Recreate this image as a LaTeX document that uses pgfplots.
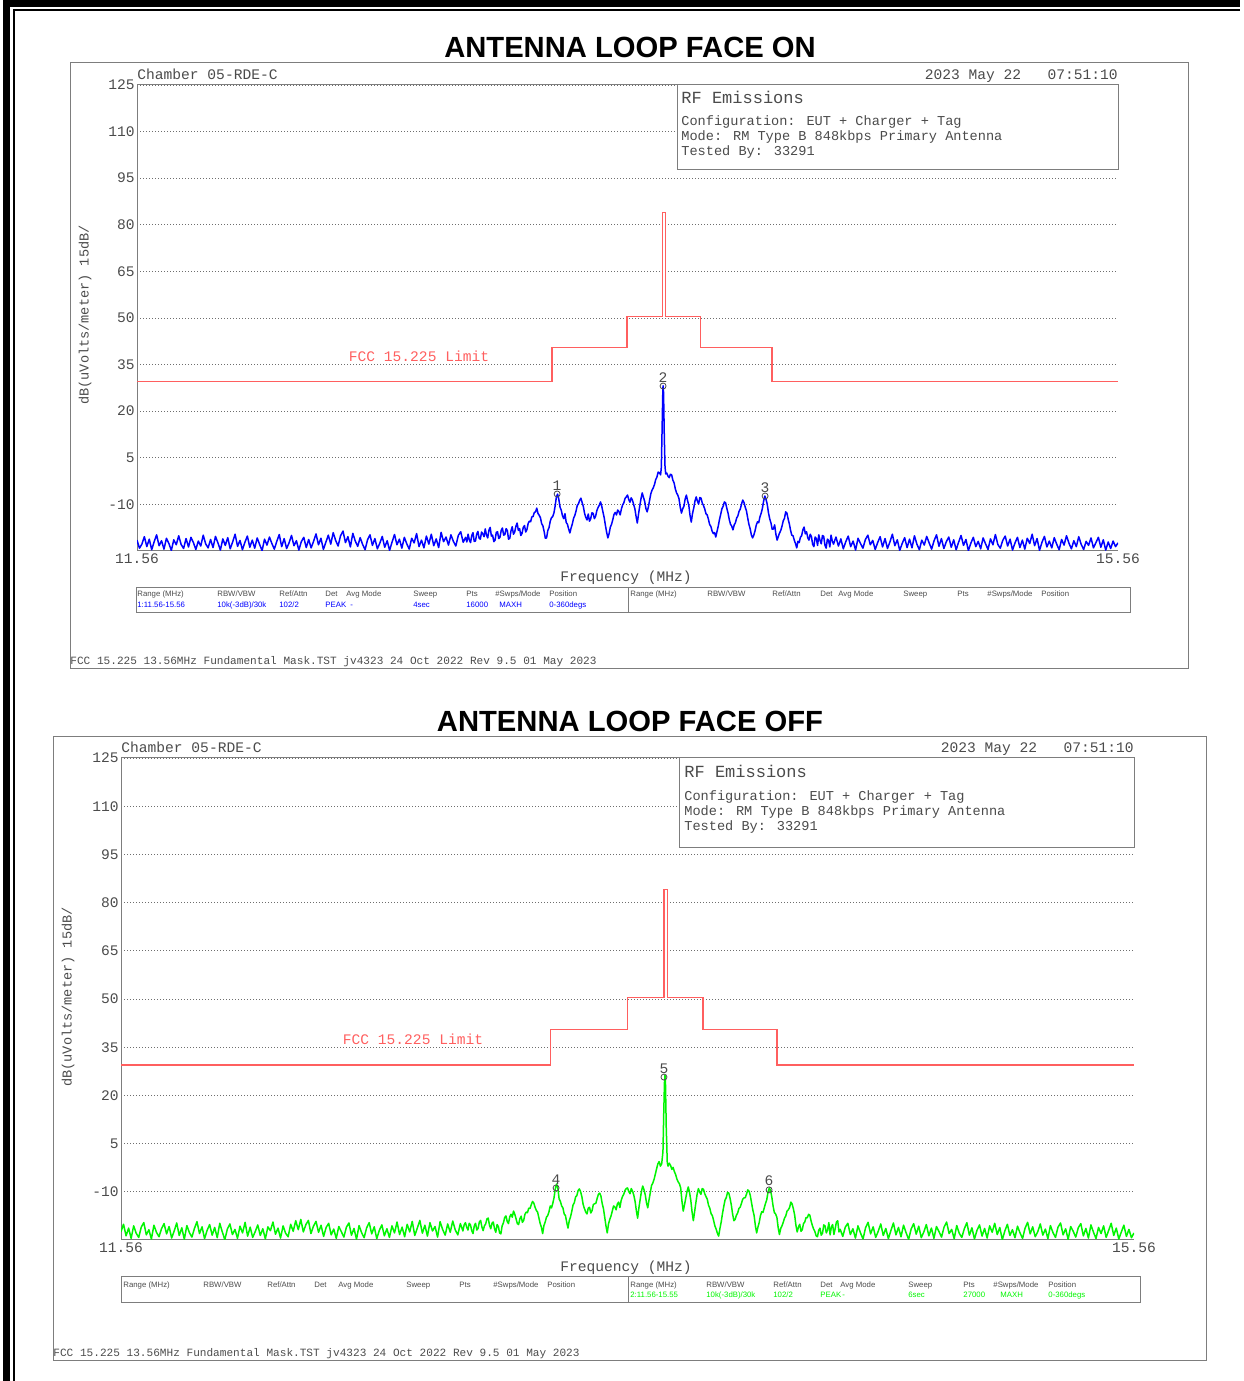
\documentclass[border=0pt]{standalone}
\usepackage{pgfplots}
\pgfplotsset{compat=1.18}
\usepackage{fontspec}
\setmainfont{Liberation Sans}
\newfontfamily\mono{Liberation Mono}
\definecolor{txt}{RGB}{75,75,75}
\definecolor{frm}{RGB}{125,125,125}
\definecolor{lim}{RGB}{255,95,95}
\definecolor{tra}{RGB}{0,0,255}
\definecolor{trb}{RGB}{0,245,0}
\definecolor{grd}{RGB}{110,110,110}
\newcommand\fA{\mono\fontsize{7.3pt}{8pt}\selectfont}
\newcommand\fB{\mono\fontsize{6.8pt}{8pt}\selectfont}
\newcommand\fC{\mono\fontsize{8.5pt}{9pt}\selectfont}
\newcommand\fY{\mono\fontsize{6.8pt}{8pt}\selectfont}
\newcommand\fF{\mono\fontsize{5.55pt}{6pt}\selectfont}
\newcommand\fT{\fontsize{3.9pt}{4.5pt}\selectfont}
\newcommand\ttl{\fontsize{14.6pt}{16pt}\selectfont\bfseries}

\pgfplotsset{panel/.style={
  scale only axis, xmin=11.56, xmax=15.56, ymin=-25, ymax=125,
  axis lines=left, axis line style={frm,-,line width=0.5pt},
  ytick={-10,5,20,35,50,65,80,95,110,125},
  yticklabels={-10,5,20,35,50,65,80,95,110,125},
  xtick={11.56,15.56}, xticklabels={11.56,15.56},
  major tick length=0pt, tick style={draw=none},
  ymajorgrids, grid style={grd,line width=0.4pt,dash pattern=on 0.5pt off 1pt},
  yticklabel style={font=\fA,text=txt,inner sep=1pt},
  xticklabel style={font=\fA,text=txt,inner sep=1pt},
  clip=true}}

\begin{document}
\begin{tikzpicture}
\useasboundingbox (0,0) rectangle (621.5pt,690.5pt);

% ---------------- panel 1 ----------------
\begin{axis}[panel, at={(68.5pt,415pt)}, anchor=south west, width=490.5pt, height=233pt]
\addplot[lim, line width=0.7pt] coordinates {(11.56,29.5) (13.252,29.5) (13.252,40.5) (13.558,40.5) (13.558,50.5) (13.702,50.5) (13.702,84) (13.715,84) (13.715,50.5) (13.857,50.5) (13.857,40.5) (14.149,40.5) (14.149,29.5) (15.56,29.5)};
\addplot[tra, line width=0.75pt, line join=round] table[row sep=\\] {f d\\
11.56 -21.5\\ 11.57 -24.1\\ 11.58 -22.8\\ 11.59 -20.4\\ 11.60 -23.6\\ 11.61 -21.2\\ 11.62 -24.6\\ 11.63 -22.0\\ 11.64 -19.8\\ 11.65 -23.3\\
11.66 -21.7\\ 11.67 -24.4\\ 11.68 -20.9\\ 11.69 -22.6\\ 11.70 -24.8\\ 11.71 -21.4\\ 11.72 -23.0\\ 11.73 -20.1\\ 11.74 -22.9\\ 11.75 -24.2\\
11.76 -21.0\\ 11.77 -23.7\\ 11.78 -20.6\\ 11.79 -22.3\\ 11.80 -24.5\\ 11.81 -21.8\\ 11.82 -23.4\\ 11.83 -19.9\\ 11.84 -22.7\\ 11.85 -24.0\\
11.86 -21.3\\ 11.87 -23.9\\ 11.88 -20.3\\ 11.89 -22.4\\ 11.90 -24.7\\ 11.91 -21.1\\ 11.92 -23.2\\ 11.93 -20.7\\ 11.94 -24.3\\ 11.95 -22.1\\
11.96 -19.6\\ 11.97 -23.5\\ 11.98 -21.6\\ 11.99 -24.6\\ 12.00 -22.2\\ 12.01 -20.2\\ 12.02 -23.8\\ 12.03 -21.5\\ 12.04 -24.1\\ 12.05 -20.8\\
12.06 -22.9\\ 12.07 -24.9\\ 12.08 -21.2\\ 12.09 -23.1\\ 12.10 -20.5\\ 12.11 -22.6\\ 12.12 -24.4\\ 12.13 -21.9\\ 12.14 -19.7\\ 12.15 -23.6\\
12.16 -21.0\\ 12.17 -24.2\\ 12.18 -22.4\\ 12.19 -20.0\\ 12.20 -23.3\\ 12.21 -21.7\\ 12.22 -24.7\\ 12.23 -22.0\\ 12.24 -20.6\\ 12.25 -23.9\\
12.26 -21.3\\ 12.27 -24.0\\ 12.28 -21.9\\ 12.29 -19.5\\ 12.30 -23.0\\ 12.31 -20.9\\ 12.32 -24.5\\ 12.33 -22.2\\ 12.34 -19.9\\ 12.35 -22.8\\
12.36 -19.1\\ 12.37 -21.6\\ 12.38 -23.4\\ 12.39 -20.1\\ 12.40 -18.6\\ 12.41 -22.3\\ 12.42 -20.4\\ 12.43 -23.7\\ 12.44 -19.3\\ 12.45 -21.8\\
12.46 -23.5\\ 12.47 -20.7\\ 12.48 -22.9\\ 12.49 -24.6\\ 12.50 -21.4\\ 12.51 -19.8\\ 12.52 -23.2\\ 12.53 -21.0\\ 12.54 -24.3\\ 12.55 -22.5\\
12.56 -20.3\\ 12.57 -23.8\\ 12.58 -21.7\\ 12.59 -24.8\\ 12.60 -22.1\\ 12.61 -19.7\\ 12.62 -23.0\\ 12.63 -21.2\\ 12.64 -24.1\\ 12.65 -20.6\\
12.66 -22.7\\ 12.67 -24.4\\ 12.68 -20.9\\ 12.69 -22.4\\ 12.70 -19.4\\ 12.71 -23.6\\ 12.72 -21.5\\ 12.73 -24.0\\ 12.74 -20.2\\ 12.75 -22.8\\
12.76 -19.6\\ 12.77 -23.3\\ 12.78 -21.1\\ 12.79 -23.9\\ 12.80 -19.0\\ 12.81 -22.0\\ 12.82 -20.5\\ 12.83 -23.1\\ 12.84 -19.8\\ 12.85 -21.9\\
12.86 -23.4\\ 12.87 -20.0\\ 12.88 -18.8\\ 12.89 -22.2\\ 12.90 -20.6\\
12.905 -22.1\\ 12.91 -19.6\\ 12.915 -21.4\\ 12.92 -22.3\\ 12.925 -20.0\\ 12.93 -19.1\\ 12.935 -21.9\\ 12.94 -21.8\\ 12.945 -19.6\\ 12.95 -18.7\\
12.955 -20.9\\ 12.96 -21.2\\ 12.965 -18.9\\ 12.97 -19.5\\ 12.975 -20.4\\ 12.98 -17.9\\ 12.985 -19.9\\ 12.99 -20.8\\ 12.995 -18.3\\ 13.00 -17.4\\
13.005 -20.2\\ 13.01 -19.9\\ 13.015 -22.0\\ 13.02 -21.5\\ 13.025 -19.0\\ 13.03 -18.8\\ 13.035 -21.0\\ 13.04 -20.6\\ 13.045 -18.4\\ 13.05 -17.6\\
13.055 -19.9\\ 13.06 -19.7\\ 13.065 -17.8\\ 13.07 -18.4\\ 13.075 -21.2\\ 13.08 -20.9\\ 13.085 -18.5\\ 13.09 -17.2\\ 13.095 -19.6\\ 13.10 -18.9\\
13.105 -17.0\\ 13.11 -16.0\\ 13.115 -18.4\\ 13.12 -17.8\\ 13.125 -20.0\\ 13.13 -19.3\\ 13.135 -17.4\\ 13.14 -16.8\\ 13.145 -18.9\\ 13.15 -18.1\\
13.155 -16.1\\ 13.16 -15.4\\ 13.165 -15.6\\ 13.17 -14.0\\ 13.175 -13.9\\ 13.18 -12.6\\ 13.185 -12.4\\ 13.19 -11.2\\ 13.195 -12.9\\ 13.20 -13.5\\
13.205 -14.3\\ 13.21 -16.2\\ 13.215 -16.9\\ 13.22 -18.7\\ 13.225 -20.9\\ 13.23 -20.8\\ 13.235 -18.4\\ 13.24 -17.5\\ 13.245 -15.4\\ 13.25 -14.3\\
13.255 -13.9\\ 13.26 -12.8\\ 13.265 -10.5\\ 13.27 -7.6\\ 13.275 -6.7\\ 13.28 -8.4\\ 13.285 -10.9\\ 13.29 -11.9\\ 13.295 -13.7\\ 13.30 -14.6\\
13.305 -13.0\\ 13.31 -15.8\\ 13.315 -16.4\\ 13.32 -17.9\\ 13.325 -19.2\\ 13.33 -17.6\\ 13.335 -16.3\\ 13.34 -14.5\\ 13.345 -13.6\\ 13.35 -12.2\\
13.355 -10.4\\ 13.36 -9.8\\ 13.365 -8.7\\ 13.37 -8.0\\ 13.375 -9.4\\ 13.38 -10.7\\ 13.385 -12.9\\ 13.39 -14.2\\ 13.395 -15.0\\ 13.40 -13.1\\
13.405 -15.4\\ 13.41 -14.6\\ 13.415 -12.7\\ 13.42 -12.9\\ 13.425 -14.6\\ 13.43 -13.8\\ 13.435 -12.0\\ 13.44 -11.0\\ 13.445 -10.3\\ 13.45 -9.2\\
13.455 -10.6\\ 13.46 -12.5\\ 13.465 -14.3\\ 13.47 -16.8\\ 13.475 -19.0\\ 13.48 -20.8\\ 13.485 -19.4\\ 13.49 -17.3\\ 13.495 -16.4\\ 13.50 -14.9\\
13.505 -13.2\\ 13.51 -12.6\\ 13.515 -13.4\\ 13.52 -11.8\\ 13.525 -12.3\\ 13.53 -13.4\\ 13.535 -11.5\\ 13.54 -10.2\\ 13.545 -9.5\\ 13.55 -8.1\\
13.555 -7.6\\ 13.56 -7.0\\ 13.565 -8.4\\ 13.57 -9.3\\ 13.575 -7.9\\ 13.58 -8.6\\ 13.585 -10.0\\ 13.59 -11.4\\ 13.595 -13.9\\ 13.60 -16.0\\
13.605 -13.1\\ 13.61 -10.5\\ 13.615 -8.2\\ 13.62 -6.3\\ 13.625 -7.7\\ 13.63 -9.0\\ 13.635 -11.3\\ 13.64 -12.4\\ 13.645 -10.9\\ 13.65 -8.7\\
13.655 -6.6\\ 13.66 -5.4\\ 13.665 -4.7\\ 13.67 -3.6\\ 13.675 -2.0\\ 13.68 -1.2\\ 13.685 0.4\\ 13.69 0.2\\ 13.695 -0.5\\ 13.698 2.0\\
13.701 14.0\\ 13.704 26.5\\ 13.705 28.2\\ 13.707 26.0\\ 13.710 12.0\\ 13.713 2.0\\ 13.716 -0.2\\ 13.72 0.1\\ 13.725 -0.9\\ 13.73 -1.4\\
13.735 -0.3\\ 13.74 -0.5\\ 13.745 -2.2\\ 13.75 -3.1\\ 13.755 -5.0\\ 13.76 -6.3\\ 13.765 -7.0\\ 13.77 -8.2\\ 13.775 -10.9\\ 13.78 -12.8\\
13.785 -11.4\\ 13.79 -10.6\\ 13.795 -8.3\\ 13.80 -7.0\\ 13.805 -8.8\\ 13.81 -10.3\\ 13.815 -13.6\\ 13.82 -15.7\\ 13.825 -13.0\\ 13.83 -11.2\\
13.835 -9.0\\ 13.84 -7.6\\ 13.845 -8.9\\ 13.85 -9.9\\ 13.855 -7.8\\ 13.86 -8.0\\ 13.865 -9.6\\ 13.87 -10.4\\ 13.875 -11.5\\ 13.88 -13.0\\
13.885 -13.4\\ 13.89 -14.8\\ 13.895 -16.5\\ 13.90 -17.1\\ 13.905 -18.6\\ 13.91 -19.4\\ 13.915 -19.1\\ 13.92 -20.5\\ 13.925 -18.7\\ 13.93 -17.0\\
13.935 -14.9\\ 13.94 -13.2\\ 13.945 -11.4\\ 13.95 -10.6\\ 13.955 -9.2\\ 13.96 -9.5\\ 13.965 -11.3\\ 13.97 -12.8\\ 13.975 -14.9\\ 13.98 -16.4\\
13.985 -17.0\\ 13.99 -18.2\\ 13.995 -16.6\\ 14.00 -15.9\\ 14.005 -14.4\\ 14.01 -13.7\\ 14.015 -12.2\\ 14.02 -11.5\\ 14.025 -9.9\\ 14.03 -8.6\\
14.035 -9.4\\ 14.04 -10.9\\ 14.045 -12.1\\ 14.05 -14.3\\ 14.055 -16.4\\ 14.06 -17.8\\ 14.065 -19.8\\ 14.07 -20.8\\ 14.075 -19.9\\ 14.08 -18.5\\
14.085 -16.7\\ 14.09 -15.6\\ 14.095 -15.9\\ 14.10 -14.0\\ 14.105 -12.9\\ 14.11 -11.3\\ 14.115 -8.9\\ 14.12 -7.3\\ 14.125 -8.4\\ 14.13 -10.1\\
14.135 -12.8\\ 14.14 -14.7\\ 14.145 -16.0\\ 14.15 -18.0\\ 14.155 -17.9\\ 14.16 -16.6\\ 14.165 -19.6\\ 14.17 -21.5\\ 14.175 -20.3\\ 14.18 -19.2\\
14.185 -18.4\\ 14.19 -17.0\\ 14.195 -15.3\\ 14.20 -14.5\\ 14.205 -12.4\\ 14.21 -12.8\\ 14.215 -14.7\\ 14.22 -16.3\\ 14.225 -18.4\\ 14.23 -19.9\\
14.235 -20.1\\ 14.24 -21.5\\ 14.245 -22.6\\ 14.25 -24.0\\ 14.255 -21.9\\ 14.26 -22.3\\ 14.265 -20.6\\ 14.27 -20.1\\ 14.275 -18.2\\ 14.28 -17.3\\
14.285 -19.5\\ 14.29 -18.8\\ 14.295 -20.7\\ 14.30 -21.5\\ 14.305 -19.6\\ 14.31 -20.4\\ 14.315 -22.9\\ 14.32 -23.6\\ 14.325 -20.5\\ 14.33 -21.0\\
14.335 -23.2\\ 14.34 -19.8\\ 14.345 -21.6\\ 14.35 -22.7\\ 14.355 -20.0\\ 14.36 -20.3\\ 14.365 -23.1\\ 14.37 -24.1\\ 14.375 -21.2\\ 14.38 -21.6\\
14.385 -23.7\\ 14.39 -19.9\\ 14.395 -21.8\\ 14.40 -22.8\\
14.41 -20.5\\ 14.42 -23.4\\ 14.43 -21.1\\ 14.44 -24.3\\ 14.45 -22.0\\ 14.46 -20.2\\ 14.47 -23.6\\ 14.48 -21.8\\ 14.49 -24.7\\ 14.50 -20.9\\
14.51 -22.6\\ 14.52 -24.1\\ 14.53 -21.3\\ 14.54 -19.9\\ 14.55 -23.0\\ 14.56 -21.6\\ 14.57 -24.5\\ 14.58 -22.3\\ 14.59 -20.4\\ 14.60 -23.7\\
14.61 -21.0\\ 14.62 -24.2\\ 14.63 -22.1\\ 14.64 -19.6\\ 14.65 -23.3\\ 14.66 -21.4\\ 14.67 -24.8\\ 14.68 -22.6\\ 14.69 -20.7\\ 14.70 -23.9\\
14.71 -21.2\\ 14.72 -24.0\\ 14.73 -20.1\\ 14.74 -22.8\\ 14.75 -24.6\\ 14.76 -21.5\\ 14.77 -23.1\\ 14.78 -20.3\\ 14.79 -22.4\\ 14.80 -24.4\\
14.81 -21.7\\ 14.82 -19.8\\ 14.83 -23.5\\ 14.84 -21.0\\ 14.85 -24.2\\ 14.86 -22.0\\ 14.87 -20.5\\ 14.88 -23.8\\ 14.89 -21.4\\ 14.90 -24.6\\
14.91 -22.2\\ 14.92 -20.0\\ 14.93 -23.2\\ 14.94 -21.3\\ 14.95 -24.9\\ 14.96 -22.5\\ 14.97 -20.6\\ 14.98 -23.6\\ 14.99 -21.9\\ 15.00 -24.3\\
15.01 -20.8\\ 15.02 -22.7\\ 15.03 -24.5\\ 15.04 -21.1\\ 15.05 -23.0\\ 15.06 -19.7\\ 15.07 -22.9\\ 15.08 -24.1\\ 15.09 -21.6\\ 15.10 -20.2\\
15.11 -23.4\\ 15.12 -21.2\\ 15.13 -24.7\\ 15.14 -22.4\\ 15.15 -20.6\\ 15.16 -23.9\\ 15.17 -21.5\\ 15.18 -24.4\\ 15.19 -20.9\\ 15.20 -22.6\\
15.21 -19.6\\ 15.22 -23.3\\ 15.23 -21.0\\ 15.24 -24.8\\ 15.25 -22.2\\ 15.26 -20.3\\ 15.27 -23.7\\ 15.28 -21.8\\ 15.29 -24.0\\ 15.30 -20.7\\
15.31 -22.8\\ 15.32 -24.6\\ 15.33 -21.3\\ 15.34 -23.1\\ 15.35 -20.1\\ 15.36 -22.5\\ 15.37 -24.3\\ 15.38 -21.7\\ 15.39 -23.6\\ 15.40 -20.4\\
15.41 -22.9\\ 15.42 -24.5\\ 15.43 -21.9\\ 15.44 -23.2\\ 15.45 -20.8\\ 15.46 -24.0\\ 15.47 -22.3\\ 15.48 -20.6\\ 15.49 -23.8\\ 15.50 -21.4\\
15.51 -24.7\\ 15.52 -22.1\\ 15.53 -24.2\\ 15.54 -21.8\\ 15.55 -23.6\\ 15.56 -22.4\\
};
\addplot[only marks, mark=o, mark size=1.5pt, draw=txt, mark options={line width=0.4pt},
  point meta=explicit symbolic, nodes near coords,
  nodes near coords style={font=\fA, text=txt, anchor=south, yshift=1.2pt, inner sep=0.5pt}]
  coordinates {(13.273,-6.65)[1] (13.705,28.1)[2] (14.121,-7.3)[3]};
\end{axis}

% ---------------- panel 2 ----------------
\begin{axis}[panel, at={(60.5pt,70.5pt)}, anchor=south west, width=506.5pt, height=241pt]
\addplot[lim, line width=0.7pt] coordinates {(11.56,29.5) (13.257,29.5) (13.257,40.5) (13.561,40.5) (13.561,50.5) (13.704,50.5) (13.704,84) (13.717,84) (13.717,50.5) (13.858,50.5) (13.858,40.5) (14.150,40.5) (14.150,29.5) (15.56,29.5)};
\addplot[trb, line width=0.75pt, line join=round] table[row sep=\\] {f d\\
11.56 -22.4\\ 11.57 -20.1\\ 11.58 -23.7\\ 11.59 -21.3\\ 11.60 -24.5\\ 11.61 -20.6\\ 11.62 -22.9\\ 11.63 -24.2\\ 11.64 -21.0\\ 11.65 -19.6\\
11.66 -23.4\\ 11.67 -21.8\\ 11.68 -24.7\\ 11.69 -20.4\\ 11.70 -22.6\\ 11.71 -24.0\\ 11.72 -21.5\\ 11.73 -19.9\\ 11.74 -23.1\\ 11.75 -20.8\\
11.76 -24.4\\ 11.77 -22.2\\ 11.78 -19.7\\ 11.79 -23.6\\ 11.80 -21.2\\ 11.81 -24.8\\ 11.82 -20.5\\ 11.83 -22.7\\ 11.84 -24.1\\ 11.85 -21.4\\
11.86 -19.3\\ 11.87 -23.0\\ 11.88 -20.9\\ 11.89 -24.6\\ 11.90 -22.0\\ 11.91 -20.2\\ 11.92 -23.5\\ 11.93 -21.1\\ 11.94 -24.3\\ 11.95 -19.8\\
11.96 -22.5\\ 11.97 -24.9\\ 11.98 -21.6\\ 11.99 -20.0\\ 12.00 -23.3\\ 12.01 -21.7\\ 12.02 -24.5\\ 12.03 -20.7\\ 12.04 -22.8\\ 12.05 -19.5\\
12.06 -23.8\\ 12.07 -21.0\\ 12.08 -24.2\\ 12.09 -22.4\\ 12.10 -20.3\\ 12.11 -23.6\\ 12.12 -21.5\\ 12.13 -24.7\\ 12.14 -20.9\\ 12.15 -22.1\\
12.16 -19.4\\ 12.17 -23.2\\ 12.18 -21.3\\ 12.19 -24.4\\ 12.20 -20.6\\ 12.21 -22.9\\ 12.22 -24.0\\ 12.23 -20.1\\ 12.24 -22.3\\ 12.25 -19.0\\
12.26 -21.8\\ 12.27 -18.6\\ 12.28 -22.5\\ 12.29 -20.2\\ 12.30 -18.9\\ 12.31 -23.0\\ 12.32 -20.7\\ 12.33 -19.2\\ 12.34 -22.6\\ 12.35 -20.4\\
12.36 -23.9\\ 12.37 -21.1\\ 12.38 -19.8\\ 12.39 -23.4\\ 12.40 -21.6\\ 12.41 -24.5\\ 12.42 -20.8\\ 12.43 -22.4\\ 12.44 -24.1\\ 12.45 -21.0\\
12.46 -19.7\\ 12.47 -23.5\\ 12.48 -21.4\\ 12.49 -24.8\\ 12.50 -20.5\\ 12.51 -22.7\\ 12.52 -24.3\\ 12.53 -21.2\\ 12.54 -19.6\\ 12.55 -23.1\\
12.56 -20.9\\ 12.57 -24.6\\ 12.58 -22.0\\ 12.59 -20.3\\ 12.60 -23.7\\ 12.61 -21.5\\ 12.62 -24.2\\ 12.63 -20.6\\ 12.64 -22.8\\ 12.65 -19.4\\
12.66 -23.3\\ 12.67 -21.0\\ 12.68 -24.0\\ 12.69 -20.1\\ 12.70 -22.5\\ 12.71 -19.2\\ 12.72 -23.6\\ 12.73 -21.3\\ 12.74 -18.9\\ 12.75 -22.9\\
12.76 -20.4\\ 12.77 -23.8\\ 12.78 -19.6\\ 12.79 -22.2\\ 12.80 -20.8\\ 12.81 -24.1\\ 12.82 -19.3\\ 12.83 -21.7\\ 12.84 -23.5\\ 12.85 -20.0\\
12.86 -22.6\\ 12.87 -19.1\\ 12.88 -21.9\\ 12.89 -23.4\\ 12.90 -19.9\\
12.905 -21.0\\ 12.91 -22.2\\ 12.915 -20.3\\ 12.92 -19.6\\ 12.925 -21.0\\ 12.93 -21.9\\ 12.935 -19.8\\ 12.94 -20.3\\ 12.945 -22.1\\ 12.95 -23.0\\
12.955 -20.6\\ 12.96 -19.8\\ 12.965 -21.9\\ 12.97 -21.4\\ 12.975 -19.4\\ 12.98 -18.9\\ 12.985 -20.9\\ 12.99 -22.1\\ 12.995 -20.6\\ 13.00 -20.0\\
13.005 -18.4\\ 13.01 -18.2\\ 13.015 -20.4\\ 13.02 -21.5\\ 13.025 -19.8\\ 13.03 -19.4\\ 13.035 -21.5\\ 13.04 -22.6\\ 13.045 -20.2\\ 13.05 -20.8\\
13.055 -22.8\\ 13.06 -23.1\\ 13.065 -20.6\\ 13.07 -19.7\\ 13.075 -18.0\\ 13.08 -17.5\\ 13.085 -19.2\\ 13.09 -19.9\\ 13.095 -17.8\\ 13.10 -17.0\\
13.105 -17.9\\ 13.11 -16.0\\ 13.115 -17.0\\ 13.12 -18.4\\ 13.125 -19.9\\ 13.13 -20.2\\ 13.135 -18.4\\ 13.14 -17.6\\ 13.145 -19.5\\ 13.15 -18.9\\
13.155 -17.0\\ 13.16 -16.3\\ 13.165 -16.5\\ 13.17 -15.1\\ 13.175 -15.2\\ 13.18 -14.0\\ 13.185 -13.0\\ 13.19 -13.5\\ 13.195 -14.8\\ 13.20 -15.8\\
13.205 -16.3\\ 13.21 -18.1\\ 13.215 -19.8\\ 13.22 -21.0\\ 13.225 -23.0\\ 13.23 -20.5\\ 13.235 -19.4\\ 13.24 -17.9\\ 13.245 -17.4\\ 13.25 -16.2\\
13.255 -14.4\\ 13.26 -15.0\\ 13.265 -13.6\\ 13.27 -11.8\\ 13.275 -9.0\\ 13.28 -7.6\\ 13.285 -8.9\\ 13.29 -12.2\\ 13.295 -13.0\\ 13.30 -14.4\\
13.305 -15.0\\ 13.31 -16.9\\ 13.315 -17.4\\ 13.32 -19.5\\ 13.325 -21.3\\ 13.33 -19.0\\ 13.335 -17.8\\ 13.34 -16.1\\ 13.345 -14.1\\ 13.35 -13.4\\
13.355 -11.6\\ 13.36 -11.2\\ 13.365 -9.6\\ 13.37 -9.1\\ 13.375 -10.0\\ 13.38 -11.6\\ 13.385 -14.0\\ 13.39 -15.2\\ 13.395 -16.3\\ 13.40 -16.9\\
13.405 -15.1\\ 13.41 -14.8\\ 13.415 -16.6\\ 13.42 -15.9\\ 13.425 -14.0\\ 13.43 -13.7\\ 13.435 -13.6\\ 13.44 -12.1\\ 13.445 -10.8\\ 13.45 -10.4\\
13.455 -11.3\\ 13.46 -13.6\\ 13.465 -15.2\\ 13.47 -17.9\\ 13.475 -20.6\\ 13.48 -22.8\\ 13.485 -20.0\\ 13.49 -18.6\\ 13.495 -17.5\\ 13.50 -16.0\\
13.505 -14.4\\ 13.51 -14.7\\ 13.515 -15.6\\ 13.52 -13.8\\ 13.525 -13.2\\ 13.53 -14.9\\ 13.535 -12.7\\ 13.54 -11.5\\ 13.545 -10.8\\ 13.55 -9.6\\
13.555 -9.0\\ 13.56 -8.8\\ 13.565 -9.9\\ 13.57 -10.6\\ 13.575 -9.0\\ 13.58 -9.8\\ 13.585 -11.1\\ 13.59 -13.0\\ 13.595 -15.9\\ 13.60 -18.2\\
13.605 -15.0\\ 13.61 -12.4\\ 13.615 -9.9\\ 13.62 -8.2\\ 13.625 -9.3\\ 13.63 -10.9\\ 13.635 -13.4\\ 13.64 -15.0\\ 13.645 -12.5\\ 13.65 -10.3\\
13.655 -8.0\\ 13.66 -7.3\\ 13.665 -6.1\\ 13.67 -4.5\\ 13.675 -2.8\\ 13.68 -1.3\\ 13.685 -0.6\\ 13.69 -2.0\\ 13.695 -1.3\\ 13.700 2.5\\
13.703 14.0\\ 13.706 24.0\\ 13.708 26.3\\ 13.710 23.5\\ 13.713 10.0\\ 13.717 -0.8\\ 13.72 -2.0\\ 13.725 -1.1\\ 13.73 -1.8\\ 13.735 -3.0\\
13.74 -2.4\\ 13.745 -3.7\\ 13.75 -4.6\\ 13.755 -6.0\\ 13.76 -6.9\\ 13.765 -7.5\\ 13.77 -8.8\\ 13.775 -12.9\\ 13.78 -16.0\\ 13.785 -14.1\\
13.79 -12.0\\ 13.795 -9.9\\ 13.80 -8.5\\ 13.805 -10.2\\ 13.81 -12.7\\ 13.815 -16.3\\ 13.82 -19.0\\ 13.825 -16.2\\ 13.83 -13.4\\ 13.835 -10.7\\
13.84 -9.0\\ 13.845 -10.1\\ 13.85 -10.8\\ 13.855 -9.0\\ 13.86 -9.2\\ 13.865 -10.6\\ 13.87 -11.5\\ 13.875 -12.3\\ 13.88 -14.2\\ 13.885 -15.1\\
13.89 -16.8\\ 13.895 -17.4\\ 13.90 -18.9\\ 13.905 -20.6\\ 13.91 -21.6\\ 13.915 -22.9\\ 13.92 -23.8\\ 13.925 -21.4\\ 13.93 -19.4\\ 13.935 -16.8\\
13.94 -14.6\\ 13.945 -12.6\\ 13.95 -11.8\\ 13.955 -10.2\\ 13.96 -10.4\\ 13.965 -12.0\\ 13.97 -14.1\\ 13.975 -16.9\\ 13.98 -19.0\\ 13.985 -18.6\\
13.99 -17.3\\ 13.995 -16.6\\ 14.00 -15.2\\ 14.005 -14.8\\ 14.01 -13.6\\ 14.015 -12.3\\ 14.02 -11.9\\ 14.025 -11.8\\ 14.03 -10.7\\ 14.035 -9.4\\
14.04 -9.8\\ 14.045 -11.2\\ 14.05 -13.5\\ 14.055 -15.7\\ 14.06 -17.4\\ 14.065 -20.6\\ 14.07 -22.8\\ 14.075 -21.0\\ 14.08 -19.6\\ 14.085 -17.4\\
14.09 -16.2\\ 14.095 -16.4\\ 14.10 -15.0\\ 14.105 -13.6\\ 14.11 -12.4\\ 14.115 -10.0\\ 14.12 -8.8\\ 14.125 -9.6\\ 14.13 -11.7\\ 14.135 -14.5\\
14.14 -16.5\\ 14.145 -16.9\\ 14.15 -18.0\\ 14.155 -21.2\\ 14.16 -23.3\\ 14.165 -21.4\\ 14.17 -20.6\\ 14.175 -19.5\\ 14.18 -18.2\\ 14.185 -17.5\\
14.19 -16.0\\ 14.195 -15.6\\ 14.20 -14.9\\ 14.205 -13.2\\ 14.21 -13.8\\ 14.215 -15.3\\ 14.22 -17.2\\ 14.225 -20.4\\ 14.23 -22.5\\ 14.235 -21.0\\
14.24 -20.1\\ 14.245 -22.3\\ 14.25 -21.8\\ 14.255 -19.9\\ 14.26 -19.4\\ 14.265 -18.0\\ 14.27 -18.1\\ 14.275 -17.0\\ 14.28 -17.3\\ 14.285 -19.1\\
14.29 -20.5\\ 14.295 -21.6\\ 14.30 -22.4\\ 14.305 -23.7\\ 14.31 -24.0\\ 14.315 -22.0\\ 14.32 -21.3\\ 14.325 -23.5\\ 14.33 -22.9\\ 14.335 -20.3\\
14.34 -20.6\\ 14.345 -22.8\\ 14.35 -21.9\\ 14.355 -19.6\\ 14.36 -23.4\\ 14.365 -21.0\\ 14.37 -20.2\\ 14.375 -23.3\\ 14.38 -21.5\\ 14.385 -19.4\\
14.39 -19.0\\ 14.395 -22.5\\ 14.40 -21.7\\
14.41 -23.9\\ 14.42 -21.0\\ 14.43 -19.8\\ 14.44 -23.3\\ 14.45 -21.5\\ 14.46 -24.4\\ 14.47 -20.6\\ 14.48 -22.8\\ 14.49 -24.7\\ 14.50 -21.2\\
14.51 -19.5\\ 14.52 -23.1\\ 14.53 -20.9\\ 14.54 -24.2\\ 14.55 -22.3\\ 14.56 -20.0\\ 14.57 -23.6\\ 14.58 -21.4\\ 14.59 -24.6\\ 14.60 -22.1\\
14.61 -19.7\\ 14.62 -23.4\\ 14.63 -21.1\\ 14.64 -24.0\\ 14.65 -20.4\\ 14.66 -22.7\\ 14.67 -24.8\\ 14.68 -21.6\\ 14.69 -19.9\\ 14.70 -23.2\\
14.71 -20.7\\ 14.72 -24.3\\ 14.73 -22.5\\ 14.74 -20.2\\ 14.75 -23.7\\ 14.76 -21.3\\ 14.77 -24.5\\ 14.78 -20.8\\ 14.79 -22.4\\ 14.80 -24.1\\
14.81 -21.0\\ 14.82 -19.4\\ 14.83 -23.0\\ 14.84 -21.7\\ 14.85 -24.6\\ 14.86 -20.5\\ 14.87 -22.9\\ 14.88 -24.2\\ 14.89 -21.5\\ 14.90 -19.6\\
14.91 -23.5\\ 14.92 -21.2\\ 14.93 -24.7\\ 14.94 -22.0\\ 14.95 -20.3\\ 14.96 -23.8\\ 14.97 -21.4\\ 14.98 -24.4\\ 14.99 -20.6\\ 15.00 -22.6\\
15.01 -19.8\\ 15.02 -23.3\\ 15.03 -21.1\\ 15.04 -24.9\\ 15.05 -22.2\\ 15.06 -20.1\\ 15.07 -23.6\\ 15.08 -21.8\\ 15.09 -24.3\\ 15.10 -20.7\\
15.11 -22.8\\ 15.12 -24.5\\ 15.13 -21.3\\ 15.14 -19.5\\ 15.15 -23.1\\ 15.16 -20.9\\ 15.17 -24.0\\ 15.18 -22.4\\ 15.19 -20.0\\ 15.20 -23.5\\
15.21 -21.6\\ 15.22 -24.6\\ 15.23 -20.5\\ 15.24 -22.7\\ 15.25 -24.2\\ 15.26 -21.0\\ 15.27 -19.7\\ 15.28 -23.4\\ 15.29 -21.5\\ 15.30 -24.8\\
15.31 -20.8\\ 15.32 -22.3\\ 15.33 -24.1\\ 15.34 -21.2\\ 15.35 -19.9\\ 15.36 -23.7\\ 15.37 -21.4\\ 15.38 -24.4\\ 15.39 -20.3\\ 15.40 -22.6\\
15.41 -24.5\\ 15.42 -21.1\\ 15.43 -23.0\\ 15.44 -20.6\\ 15.45 -24.2\\ 15.46 -22.0\\ 15.47 -19.8\\ 15.48 -23.6\\ 15.49 -21.3\\ 15.50 -24.7\\
15.51 -22.5\\ 15.52 -20.4\\ 15.53 -23.9\\ 15.54 -21.7\\ 15.55 -24.3\\ 15.56 -22.8\\
};
\addplot[only marks, mark=o, mark size=1.5pt, draw=txt, mark options={line width=0.4pt},
  point meta=explicit symbolic, nodes near coords,
  nodes near coords style={font=\fA, text=txt, anchor=south, yshift=1.2pt, inner sep=0.5pt}]
  coordinates {(13.278,-8.8)[4] (13.704,25.7)[5] (14.119,-9.4)[6]};
\end{axis}

% ---------------- overlay in pixel coordinates ----------------
\begin{scope}[x=0.5pt,y=-0.5pt,shift={(0pt,690.5pt)}]
% page border
\fill[black] (3,0) rectangle (1240,7);
\fill[black] (3,0) rectangle (10,1381);
\fill[black] (12.5,9) rectangle (1240,11);
\fill[black] (12.5,9) rectangle (14.5,1381);

% ===== panel 1 =====
\draw[frm,line width=0.5pt] (70,63) rectangle (1188,669);
\node[font=\ttl] at (630,47) {ANTENNA LOOP FACE ON};
\draw[frm,line width=0.5pt] (137,85) -- (1118,85);
\node[anchor=base west,font=\fA,text=txt,inner sep=0] at (137,80) {Chamber 05-RDE-C};
\node[anchor=base east,font=\fA,text=txt,inner sep=0] at (1118,80) {2023 May 22\ \ \ 07:51:10};
\fill[white] (677,85) rectangle (1118,170);
\draw[frm,line width=0.5pt] (677,85) rectangle (1118,170);
\node[anchor=base west,font=\fC,text=txt,inner sep=0] at (681,104) {RF Emissions};
\node[anchor=base west,font=\fB,text=txt,inner sep=0] at (681,126) {Configuration: EUT + Charger + Tag};
\node[anchor=base west,font=\fB,text=txt,inner sep=0] at (681,141) {Mode: RM Type B 848kbps Primary Antenna};
\node[anchor=base west,font=\fB,text=txt,inner sep=0] at (681,156) {Tested By: 33291};
\node[font=\fA,text=lim] at (419,356) {FCC 15.225 Limit};
\node[font=\fA,text=txt] at (626,578) {Frequency (MHz)};
\node[font=\fY,text=txt,rotate=90] at (85,315) {dB(uVolts/meter) 15dB/};
% table
\draw[frm,line width=0.5pt] (136,588) rectangle (1130,613);
\draw[frm,line width=0.5pt] (628,588) -- (628,613);
\begin{scope}[every node/.style={anchor=base west,font=\fT,text=txt,inner sep=0}]
\node at (137,597) {Range (MHz)}; \node at (217,597) {RBW/VBW}; \node at (279,597) {Ref/Attn};
\node at (325,597) {Det}; \node at (346,597) {Avg Mode}; \node at (413,597) {Sweep};
\node at (466,597) {Pts}; \node at (495,597) {\#Swps/Mode}; \node at (549,597) {Position};
\node at (630,597) {Range (MHz)}; \node at (707,597) {RBW/VBW}; \node at (772,597) {Ref/Attn};
\node at (820,597) {Det}; \node at (838,597) {Avg Mode}; \node at (903,597) {Sweep};
\node at (957,597) {Pts}; \node at (987,597) {\#Swps/Mode}; \node at (1041,597) {Position};
\end{scope}
\begin{scope}[every node/.style={anchor=base west,font=\fT,text=tra,inner sep=0}]
\node at (137,607.5) {1:11.56-15.56}; \node at (217,607.5) {10k(-3dB)/30k}; \node at (279,607.5) {102/2};
\node at (325,607.5) {PEAK}; \node at (350,607.5) {-}; \node at (413,607.5) {4sec};
\node at (466,607.5) {16000}; \node at (499,607.5) {MAXH}; \node at (549,607.5) {0-360degs};
\end{scope}
\node[anchor=base west,font=\fF,text=txt,inner sep=0] at (70,665) {FCC 15.225 13.56MHz Fundamental Mask.TST jv4323 24 Oct 2022 Rev 9.5 01 May 2023};

% ===== panel 2 =====
\draw[frm,line width=0.5pt] (53,737) rectangle (1206,1361);
\node[font=\ttl] at (630,721) {ANTENNA LOOP FACE OFF};
\draw[frm,line width=0.5pt] (121,758) -- (1134,758);
\node[anchor=base west,font=\fA,text=txt,inner sep=0] at (121,753) {Chamber 05-RDE-C};
\node[anchor=base east,font=\fA,text=txt,inner sep=0] at (1134,753) {2023 May 22\ \ \ 07:51:10};
\fill[white] (679,758) rectangle (1134,848);
\draw[frm,line width=0.5pt] (679,758) rectangle (1134,848);
\node[anchor=base west,font=\fC,text=txt,inner sep=0] at (684,778) {RF Emissions};
\node[anchor=base west,font=\fB,text=txt,inner sep=0] at (684,801) {Configuration: EUT + Charger + Tag};
\node[anchor=base west,font=\fB,text=txt,inner sep=0] at (684,816) {Mode: RM Type B 848kbps Primary Antenna};
\node[anchor=base west,font=\fB,text=txt,inner sep=0] at (684,831) {Tested By: 33291};
\node[font=\fA,text=lim] at (413,1039) {FCC 15.225 Limit};
\node[font=\fA,text=txt] at (626,1268) {Frequency (MHz)};
\node[font=\fY,text=txt,rotate=90] at (68,997) {dB(uVolts/meter) 15dB/};
% table
\draw[frm,line width=0.5pt] (121,1277) rectangle (1140,1303);
\draw[frm,line width=0.5pt] (628,1277) -- (628,1303);
\begin{scope}[every node/.style={anchor=base west,font=\fT,text=txt,inner sep=0}]
\node at (123,1288) {Range (MHz)}; \node at (203,1288) {RBW/VBW}; \node at (267,1288) {Ref/Attn};
\node at (314,1288) {Det}; \node at (338,1288) {Avg Mode}; \node at (406,1288) {Sweep};
\node at (459,1288) {Pts}; \node at (493,1288) {\#Swps/Mode}; \node at (547,1288) {Position};
\node at (630,1288) {Range (MHz)}; \node at (706,1288) {RBW/VBW}; \node at (773,1288) {Ref/Attn};
\node at (820,1288) {Det}; \node at (840,1288) {Avg Mode}; \node at (908,1288) {Sweep};
\node at (963,1288) {Pts}; \node at (993,1288) {\#Swps/Mode}; \node at (1048,1288) {Position};
\end{scope}
\begin{scope}[every node/.style={anchor=base west,font=\fT,text=trb,inner sep=0}]
\node at (630,1297.5) {2:11.56-15.55}; \node at (706,1297.5) {10k(-3dB)/30k}; \node at (773,1297.5) {102/2};
\node at (820,1297.5) {PEAK}; \node at (842,1297.5) {-}; \node at (908,1297.5) {6sec};
\node at (963,1297.5) {27000}; \node at (1000,1297.5) {MAXH}; \node at (1048,1297.5) {0-360degs};
\end{scope}
\node[anchor=base west,font=\fF,text=txt,inner sep=0] at (53,1356.5) {FCC 15.225 13.56MHz Fundamental Mask.TST jv4323 24 Oct 2022 Rev 9.5 01 May 2023};
\end{scope}
\end{tikzpicture}
\end{document}
